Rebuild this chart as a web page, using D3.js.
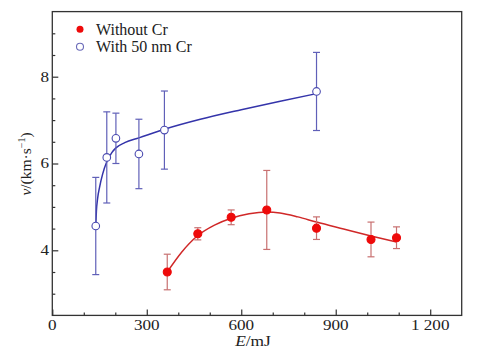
<!DOCTYPE html>
<html><head><meta charset="utf-8">
<script src="https://cdn.jsdelivr.net/npm/d3@7"></script>
<style>body{margin:0;background:#fff}svg{display:block}
svg text{font-family:"Liberation Serif","DejaVu Serif","Times New Roman",serif;}</style>
</head><body>
<script>
// Without Cr (red, filled)
const redE   = [365, 462, 568, 681, 839, 1012, 1093];
const redV   = [3.50, 4.38, 4.76, 4.93, 4.51, 4.25, 4.29];
const redErr = [0.41, 0.14, 0.17, 0.91, 0.26, 0.40, 0.25];
// With 50 nm Cr (blue, open)
const blueE   = [138, 173, 202, 275, 356, 839];
const blueV   = [4.56, 6.14, 6.58, 6.22, 6.77, 7.66];
const blueErr = [1.12, 1.05, 0.58, 0.80, 0.90, 0.90];
// fitted curves
const redFitE  = [365, 410, 462, 515, 568, 625, 681, 723, 780, 839, 925, 1012, 1093];
const redFitV  = [3.50, 3.95, 4.34, 4.58, 4.74, 4.84, 4.88, 4.86, 4.77, 4.65, 4.49, 4.33, 4.19];
const blueFitE = [138, 140, 144, 150, 160, 173, 189, 202, 230, 275, 356, 470, 600, 720, 839];
const blueFitV = [4.56, 4.90, 5.20, 5.45, 5.76, 6.04, 6.25, 6.36, 6.48, 6.59, 6.79, 7.02, 7.24, 7.43, 7.61];
const xMajor = [0, 300, 600, 900, 1200];
const xMajorLabels = ["0", "300", "600", "900", "1 200"];
const yMajor = [4, 6, 8];
const legendLabels = ["Without Cr", "With 50 nm Cr"];

const W = 481, H = 358;
const svg = d3.select("body").append("svg").attr("width", W).attr("height", H);
const L = 52.3, R = 461.7, T = 11.6, B = 315.4;
const x = d3.scaleLinear().domain([0, 1300]).range([L, R]);
const y = d3.scaleLinear().domain([2.5, 9.5]).range([B, T]);
const SX = 1.18; // horizontal stretch of the original's wide digits

// frame
svg.append("rect").attr("x", L).attr("y", T).attr("width", R - L).attr("height", B - T)
  .attr("fill", "none").attr("stroke", "#333").attr("stroke-width", 1.3);

// x axis (ticks inward)
const xMinor = d3.range(100, 1300, 100).filter(v => v % 300 !== 0);
const gx = svg.append("g").attr("transform", `translate(0,${B})`);
gx.call(d3.axisTop(x).tickValues(xMinor).tickSize(3).tickFormat(""));
gx.call(g => g.select(".domain").remove());
const gx2 = svg.append("g").attr("transform", `translate(0,${B})`);
gx2.call(d3.axisTop(x).tickValues(xMajor).tickSize(6).tickFormat(""));
gx2.call(g => g.select(".domain").remove());
xMajor.forEach((v, i) => {
  svg.append("text").attr("transform", `translate(${x(v)},329.5) scale(${SX},1)`)
    .attr("text-anchor", "middle").attr("font-size", 14.5).attr("fill", "#222")
    .text(xMajorLabels[i]);
});

// y axis
const yMinor = d3.range(3, 9.5, 0.5).filter(v => yMajor.indexOf(v) < 0);
const gy = svg.append("g").attr("transform", `translate(${L},0)`);
gy.call(d3.axisRight(y).tickValues(yMinor).tickSize(3).tickFormat(""));
gy.call(g => g.select(".domain").remove());
const gy2 = svg.append("g").attr("transform", `translate(${L},0)`);
gy2.call(d3.axisRight(y).tickValues(yMajor).tickSize(6).tickFormat(""));
gy2.call(g => g.select(".domain").remove());
svg.selectAll("g .tick line").attr("stroke", "#333").attr("stroke-width", 1.2);
yMajor.forEach(v => {
  svg.append("text").attr("transform", `translate(49,${y(v) + 4.8}) scale(${SX},1)`)
    .attr("text-anchor", "end").attr("font-size", 14.5).attr("fill", "#222").text(v);
});

// axis titles
const xt = svg.append("text").attr("transform", `translate(253,346) scale(1.12,1)`)
  .attr("text-anchor", "middle").attr("font-size", 15.5).attr("fill", "#222");
xt.append("tspan").attr("font-style", "italic").text("E");
xt.append("tspan").text("/mJ");
const yt = svg.append("text").attr("transform", "translate(31,164) rotate(-90)")
  .attr("text-anchor", "middle").attr("font-size", 15.5).attr("fill", "#222");
yt.append("tspan").attr("font-style", "italic").text("v");
yt.append("tspan").text("/(km·s");
yt.append("tspan").attr("font-size", 10).attr("dy", -6).text("−1");
yt.append("tspan").attr("dy", 6).text(")");

const line = d3.line().x(d => x(d[0])).y(d => y(d[1])).curve(d3.curveMonotoneX);

function series(E, V, Err, fitE, fitV, lineCol, errCol, dotFill, dotStroke, r) {
  svg.append("path").datum(fitE.map((e, i) => [e, fitV[i]]))
    .attr("d", line).attr("fill", "none").attr("stroke", lineCol).attr("stroke-width", 1.5);
  const g = svg.append("g");
  E.forEach((e, i) => {
    const cx = x(e), y1 = y(V[i] + Err[i]), y2 = y(V[i] - Err[i]);
    g.append("line").attr("x1", cx).attr("x2", cx).attr("y1", y1).attr("y2", y2)
      .attr("stroke", errCol).attr("stroke-width", 1.2);
    [y1, y2].forEach(yy => g.append("line").attr("x1", cx - 3.5).attr("x2", cx + 3.5)
      .attr("y1", yy).attr("y2", yy).attr("stroke", errCol).attr("stroke-width", 1.2));
  });
  E.forEach((e, i) => {
    g.append("circle").attr("cx", x(e)).attr("cy", y(V[i])).attr("r", r)
      .attr("fill", dotFill).attr("stroke", dotStroke).attr("stroke-width", 1.1);
  });
}
series(blueE, blueV, blueErr, blueFitE, blueFitV, "#3434aa", "#6060b8", "#fff", "#4a4ab0", 3.8);
series(redE, redV, redErr, redFitE, redFitV, "#d02828", "#c87070", "#ee0a0a", "#ee0a0a", 4);

// legend
svg.append("circle").attr("cx", 80).attr("cy", 29.3).attr("r", 3.5).attr("fill", "#ee0a0a");
svg.append("circle").attr("cx", 80).attr("cy", 46.7).attr("r", 3.5).attr("fill", "#fff")
  .attr("stroke", "#6a6ab8").attr("stroke-width", 1.1);
legendLabels.forEach((t, i) => {
  svg.append("text").attr("x", 96).attr("y", 34.5 + i * 17.4)
    .attr("font-size", 16).attr("fill", "#222").attr("xml:space", "preserve").text(t);
});
</script>
</body></html>
